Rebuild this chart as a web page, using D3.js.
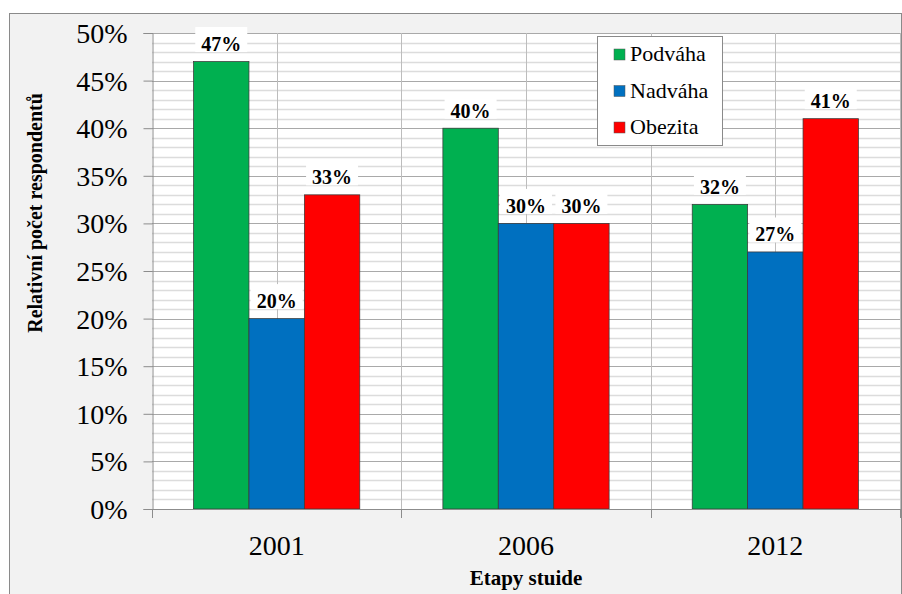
<!DOCTYPE html>
<html>
<head>
<meta charset="utf-8">
<script src="https://cdn.jsdelivr.net/npm/d3@7"></script>
<style>
  html, body { margin: 0; padding: 0; background: #ffffff; }
  svg { display: block; }
</style>
</head>
<body>
<svg id="chart" width="902" height="594"></svg>
<script>
// Survey stages and the share of respondents per weight category (%)
const years = ["2001", "2006", "2012"];
const seriesNames = ["Podváha", "Nadváha", "Obezita"];
const podvaha = [47, 40, 32];
const nadvaha = [20, 30, 27];
const obezita = [33, 30, 41];
const seriesColors = ["#00b050", "#0070c0", "#ff0000"];
const yTicks = [0, 5, 10, 15, 20, 25, 30, 35, 40, 45, 50];

const FONT = "'Liberation Serif'";

const seriesValues = [podvaha, nadvaha, obezita];
const data = years.map((year, i) => ({
  year,
  values: seriesNames.map((name, s) => ({ name, value: seriesValues[s][i], color: seriesColors[s] }))
}));

const svg = d3.select("#chart");

// chart frame
svg.append("rect")
  .attr("x", 9.5).attr("y", 13.5)
  .attr("width", 892).attr("height", 600)
  .attr("fill", "#f2f2f2")
  .attr("stroke", "#8a8a8a").attr("stroke-width", 1);

const plot = { left: 152, right: 900, top: 33, bottom: 509 };

const x0 = d3.scaleBand().domain(years).range([plot.left, plot.right]);
const x1 = d3.scaleBand().domain(seriesNames).range([0, x0.bandwidth()])
  .paddingInner(0).paddingOuter(0.75);
const y = d3.scaleLinear().domain([0, 50]).range([plot.bottom, plot.top]);

// plot background
svg.append("rect")
  .attr("x", plot.left).attr("y", plot.top)
  .attr("width", plot.right - plot.left).attr("height", plot.bottom - plot.top)
  .attr("fill", "#ffffff");

// minor horizontal gridlines (every 1 %)
svg.append("g")
  .selectAll("line")
  .data(y.ticks(50).filter(v => v % 5 !== 0))
  .join("line")
  .attr("x1", plot.left).attr("x2", plot.right)
  .attr("y1", d => Math.round(y(d)) + 0.5).attr("y2", d => Math.round(y(d)) + 0.5)
  .attr("stroke", "#dcdcdc").attr("stroke-width", 1.5);

// major horizontal gridlines (every 5 %)
svg.append("g")
  .selectAll("line")
  .data(yTicks.filter(v => v > 0))
  .join("line")
  .attr("x1", plot.left).attr("x2", plot.right)
  .attr("y1", d => Math.round(y(d)) + 0.5).attr("y2", d => Math.round(y(d)) + 0.5)
  .attr("stroke", "#a9a9a9").attr("stroke-width", 1);

// vertical gridlines at category boundaries and centres
const vLines = [];
years.forEach(yr => {
  vLines.push(x0(yr));
  vLines.push(x0(yr) + x0.bandwidth() / 2);
});
vLines.push(plot.right);
svg.append("g")
  .selectAll("line")
  .data(vLines.slice(1))
  .join("line")
  .attr("x1", d => Math.round(d) + 0.5).attr("x2", d => Math.round(d) + 0.5)
  .attr("y1", plot.top).attr("y2", plot.bottom)
  .attr("stroke", "#bdbdbd").attr("stroke-width", 1);

// bars
const groups = svg.append("g")
  .selectAll("g")
  .data(data)
  .join("g")
  .attr("transform", d => `translate(${x0(d.year)},0)`);

groups.selectAll("rect")
  .data(d => d.values)
  .join("rect")
  .attr("x", d => x1(d.name))
  .attr("y", d => y(d.value))
  .attr("width", x1.bandwidth())
  .attr("height", d => y(0) - y(d.value))
  .attr("fill", d => d.color)
  .attr("stroke", "#3a3a3a").attr("stroke-width", 0.75);

// y axis
const yAxis = d3.axisLeft(y).tickValues(yTicks).tickSize(9).tickPadding(16)
  .tickFormat(d => d + "%");
const gy = svg.append("g").attr("transform", `translate(${plot.left + 0.5},0)`).call(yAxis);
gy.attr("font-family", null).attr("font-size", null);
gy.select(".domain").attr("stroke", "#8c8c8c");
gy.selectAll(".tick line").attr("stroke", "#8c8c8c");
gy.selectAll(".tick text")
  .style("font-family", FONT)
  .style("font-size", "28px")
  .attr("fill", "#000")
  .attr("dy", "0.34em");

// x axis line and boundary ticks
svg.append("line")
  .attr("x1", plot.left).attr("x2", plot.right + 1)
  .attr("y1", plot.bottom + 0.5).attr("y2", plot.bottom + 0.5)
  .attr("stroke", "#8c8c8c");
const bounds = years.map(yr => x0(yr)).concat([plot.right]);
svg.append("g")
  .selectAll("line")
  .data(bounds)
  .join("line")
  .attr("x1", d => Math.round(d) + 0.5).attr("x2", d => Math.round(d) + 0.5)
  .attr("y1", plot.bottom).attr("y2", plot.bottom + 9)
  .attr("stroke", "#8c8c8c");

svg.append("g")
  .selectAll("text")
  .data(years)
  .join("text")
  .attr("x", d => x0(d) + x0.bandwidth() / 2)
  .attr("y", 555)
  .attr("text-anchor", "middle")
  .style("font-family", FONT)
  .style("font-size", "28px")
  .text(d => d);

// value labels with white backing
const labels = groups.selectAll("g.lbl")
  .data(d => d.values)
  .join("g")
  .attr("class", "lbl");

labels.each(function (d) {
  const g = d3.select(this);
  const cx = x1(d.name) + x1.bandwidth() / 2;
  const base = y(d.value) - 10.5;
  const bg = g.append("rect").attr("fill", "#ffffff");
  const t = g.append("text")
    .attr("x", cx).attr("y", base)
    .attr("text-anchor", "middle")
    .style("font-family", FONT)
    .style("font-size", "20px")
    .style("font-weight", "bold")
    .text(d.value + "%");
  const w = t.node().getComputedTextLength();
  bg.attr("x", cx - w / 2 - 6).attr("y", base - 24)
    .attr("width", w + 12).attr("height", 25);
});

// axis titles
svg.append("text")
  .attr("transform", `translate(42, ${(plot.top + plot.bottom) / 2 - 58}) rotate(-90)`)
  .attr("text-anchor", "middle")
  .style("font-family", FONT)
  .style("font-size", "20px")
  .style("font-weight", "bold")
  .text("Relativní počet respondentů");

svg.append("text")
  .attr("x", (plot.left + plot.right) / 2)
  .attr("y", 585)
  .attr("text-anchor", "middle")
  .style("font-family", FONT)
  .style("font-size", "21px")
  .style("font-weight", "bold")
  .text("Etapy stuide");

// legend
const legend = svg.append("g");
legend.append("rect")
  .attr("x", 597.5).attr("y", 36.5)
  .attr("width", 125).attr("height", 109)
  .attr("fill", "#ffffff")
  .attr("stroke", "#8a8a8a");
const items = legend.selectAll("g.item")
  .data(seriesNames)
  .join("g")
  .attr("class", "item")
  .attr("transform", (d, i) => `translate(0, ${i * 36.5})`);
items.append("rect")
  .attr("x", 614).attr("y", 49)
  .attr("width", 11).attr("height", 11)
  .attr("fill", (d, i) => seriesColors[i])
  .attr("stroke", "#555").attr("stroke-width", 0.5);
items.append("text")
  .attr("x", 630).attr("y", 61)
  .style("font-family", FONT)
  .style("font-size", "22px")
  .text(d => d);
</script>
</body>
</html>
